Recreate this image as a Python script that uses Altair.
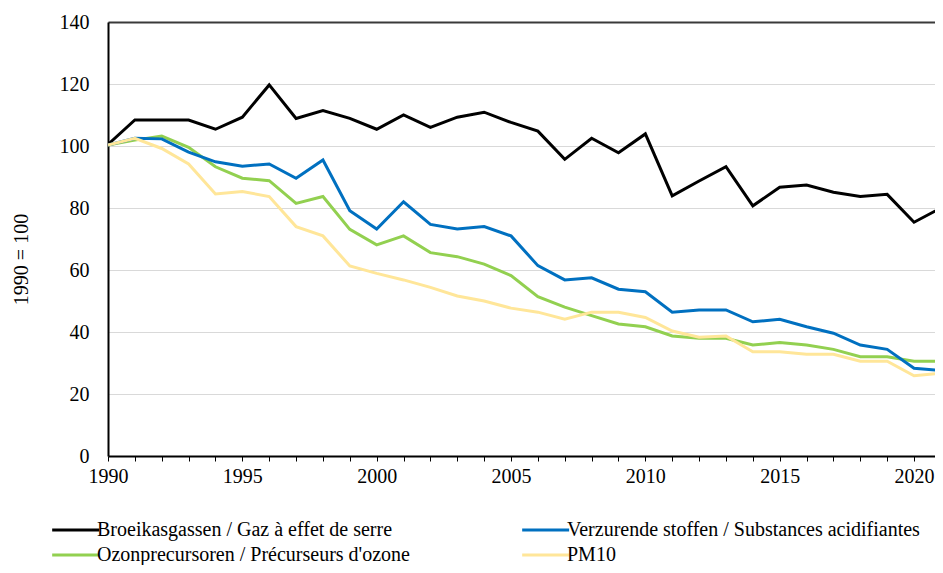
import altair as alt
import pandas as pd

years = list(range(1990, 2022))

series_names = [
    "Broeikasgassen / Gaz à effet de serre",
    "Ozonprecursoren / Précurseurs d'ozone",
    "Verzurende stoffen / Substances acidifiantes",
    "PM10",
]
series_colors = ["#000000", "#92D050", "#0070C0", "#FFE699"]

ghg = [100.5, 108.4, 108.4, 108.4, 105.4, 109.3, 119.7, 108.9, 111.4, 108.9,
       105.4, 110.0, 106.0, 109.3, 110.9, 107.6, 104.8, 95.7, 102.5, 97.8,
       103.9, 83.9, 88.7, 93.3, 80.7, 86.7, 87.4, 85.1, 83.7, 84.4,
       75.4, 80.0]
acid = [100.3, 102.5, 102.3, 98.0, 94.9, 93.5, 94.2, 89.6, 95.5, 79.1,
        73.2, 82.0, 74.7, 73.2, 74.0, 71.0, 61.4, 56.8, 57.5, 53.8,
        53.0, 46.4, 47.1, 47.1, 43.3, 44.1, 41.7, 39.6, 35.8, 34.4,
        28.3, 27.6]
ozone = [100.3, 101.9, 103.2, 99.6, 93.3, 89.6, 88.8, 81.5, 83.7, 73.1,
         68.1, 71.0, 65.6, 64.3, 61.9, 58.2, 51.4, 48.0, 45.3, 42.6,
         41.7, 38.7, 38.0, 38.0, 35.8, 36.6, 35.8, 34.4, 32.0, 32.0,
         30.6, 30.6]
pm10 = [100.3, 102.5, 99.2, 94.2, 84.5, 85.3, 83.7, 74.0, 71.0, 61.3,
        58.9, 56.8, 54.4, 51.6, 50.0, 47.7, 46.4, 44.1, 46.4, 46.4,
        44.7, 40.3, 38.3, 38.7, 33.6, 33.6, 32.8, 32.8, 30.6, 30.6,
        25.9, 26.7]

y_ticks = [0, 20, 40, 60, 80, 100, 120, 140]

rows = []
for name, vals in zip(series_names, [ghg, ozone, acid, pm10]):
    for yr, v in zip(years, vals):
        rows.append({"year": yr, "value": v, "series": name})
df = pd.DataFrame(rows)

FONT = "Liberation Serif"

chart = (
    alt.Chart(df)
    .mark_line(strokeWidth=3, clip=True)
    .encode(
        x=alt.X(
            "year:Q",
            scale=alt.Scale(domain=[1990, 2020.78], nice=False, zero=False),
            axis=alt.Axis(
                title=None,
                values=years[:-1],
                labelExpr="datum.value % 5 == 0 ? datum.value : ''",
                grid=False,
                ticks=True,
                tickSize=5,
                tickColor="#000000",
                tickWidth=1,
                domainColor="#000000",
                domainWidth=2,
                labelFont=FONT,
                labelFontSize=20,
                labelColor="#000000",
                labelPadding=5,
                labelOverlap=False,
                labelFlush=False,
                labelBound=False,
            ),
        ),
        y=alt.Y(
            "value:Q",
            scale=alt.Scale(domain=[0, 140], nice=False),
            axis=alt.Axis(
                title="1990 = 100",
                values=y_ticks,
                ticks=False,
                grid=True,
                gridColor={"condition": {"test": "datum.value === 140", "value": "#3a3a3a"}, "value": "#d9d9d9"},
                gridWidth={"condition": {"test": "datum.value === 140", "value": 2}, "value": 1.2},
                domainColor="#000000",
                domainWidth=2,
                labelFont=FONT,
                labelFontSize=20,
                labelColor="#000000",
                labelPadding=19,
                titleFont=FONT,
                titleFontSize=20,
                titleFontWeight="normal",
                titleColor="#000000",
                titleAngle=270,
                titleAlign="center",
                titleBaseline="middle",
                titleX=-87,
                titleY=237,
            ),
        ),
        color=alt.Color(
            "series:N",
            scale=alt.Scale(domain=series_names, range=series_colors),
            legend=alt.Legend(
                title=None,
                orient="none",
                legendX=-58,
                legendY=498,
                columns=2,
                columnPadding=106,
                rowPadding=5,
                symbolType="M-1,0H5",
                symbolSize=245,
                symbolStrokeWidth=3,
                symbolFillColor="transparent",
                labelFont=FONT,
                labelFontSize=20,
                labelColor="#000000",
                labelOffset=27,
                labelLimit=0,
                padding=0,
            ),
        ),
        order=alt.Order("year:Q"),
    )
    .properties(
        width=827,
        height=434,
        autosize=alt.AutoSizeParams(type="none"),
        padding={"left": 100, "top": 14, "right": 0, "bottom": 109},
    )
    .configure_view(stroke=None)
    .configure(background="#ffffff")
)

chart.save("out.html", embed_options={"renderer": "svg", "actions": False})
